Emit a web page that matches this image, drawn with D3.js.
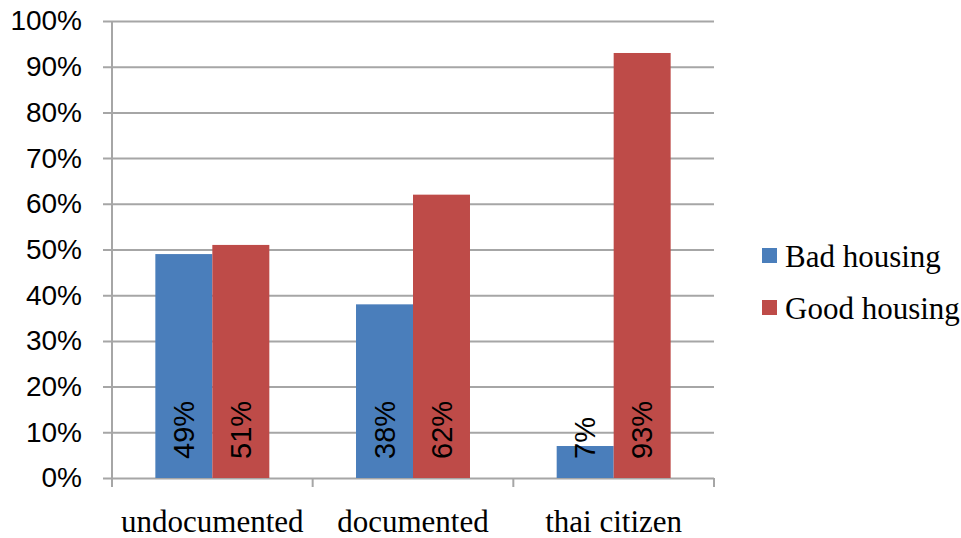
<!DOCTYPE html>
<html><head><meta charset="utf-8">
<script src="https://cdn.jsdelivr.net/npm/d3@7"></script>
<style>body{margin:0;background:#fff}svg{display:block}</style>
</head><body>
<svg id="chart" width="961" height="538"></svg>
<script>
const categories = ["undocumented", "documented", "thai citizen"];
const seriesNames = ["Bad housing", "Good housing"];
const badHousing = [0.49, 0.38, 0.07];
const goodHousing = [0.51, 0.62, 0.93];
const barLabels = [["49%", "38%", "7%"], ["51%", "62%", "93%"]];
const yTicks = [0, 0.1, 0.2, 0.3, 0.4, 0.5, 0.6, 0.7, 0.8, 0.9, 1.0];
const colors = ["#4a7ebb", "#be4b48"];

const series = [badHousing, goodHousing];
const svg = d3.select("#chart");
const pL = 112, pR = 714, pT = 21, pB = 478;

const y = d3.scaleLinear().domain([0, 1]).range([pB, pT]);
const x0 = d3.scaleBand().domain(categories).range([pL, pR]).paddingInner(0.432).paddingOuter(0.216);
const x1 = d3.scaleBand().domain(seriesNames).range([0, x0.bandwidth()]);

// gridlines + y axis
const yAxis = d3.axisLeft(y).tickValues(yTicks).tickFormat(d3.format(".0%"))
  .tickSize(-(pR - pL)).tickPadding(20);
const gy = svg.append("g").attr("transform", `translate(${pL},0)`).call(yAxis);
gy.select(".domain").remove();
gy.selectAll(".tick line").attr("x1", -9).attr("stroke", "#a6a6a6").attr("stroke-width", 2);
gy.selectAll(".tick text").attr("font-family", "Liberation Sans, Arial, sans-serif")
  .attr("font-size", 28).attr("fill", "#000").attr("x", -30);

// y axis line
svg.append("line").attr("x1", pL).attr("x2", pL).attr("y1", pT).attr("y2", pB + 9)
  .attr("stroke", "#a6a6a6").attr("stroke-width", 2);

// x axis ticks at category boundaries
const boundaries = categories.map(c => x0(c) - x0.step() * 0.216).concat([pR]);
svg.append("g").selectAll("line").data(boundaries.slice(1)).join("line")
  .attr("x1", d => d).attr("x2", d => d).attr("y1", pB).attr("y2", pB + 9)
  .attr("stroke", "#a6a6a6").attr("stroke-width", 2);

// bars
const groups = svg.append("g").selectAll("g").data(categories).join("g")
  .attr("transform", c => `translate(${x0(c)},0)`);
seriesNames.forEach((s, si) => {
  groups.append("rect")
    .attr("x", x1(s)).attr("width", x1.bandwidth())
    .attr("y", (c, i) => y(series[si][i]))
    .attr("height", (c, i) => pB - y(series[si][i]))
    .attr("fill", colors[si]);
  groups.append("text")
    .attr("transform", () => `translate(${x1(s) + x1.bandwidth() / 2},${pB - 19}) rotate(-90)`)
    .attr("dy", "0.35em")
    .attr("font-family", "Liberation Sans, Arial, sans-serif").attr("font-size", 29)
    .attr("fill", "#000")
    .text((c, i) => barLabels[si][i]);
});

// category labels
svg.append("g").selectAll("text").data(categories).join("text")
  .attr("x", c => x0(c) + x0.bandwidth() / 2).attr("y", 532)
  .attr("text-anchor", "middle")
  .attr("font-family", "Liberation Serif, Times New Roman, serif").attr("font-size", 31)
  .attr("fill", "#000").text(c => c);

// legend
const lg = svg.append("g").selectAll("g").data(seriesNames).join("g")
  .attr("transform", (d, i) => `translate(762,${248 + i * 52})`);
lg.append("rect").attr("width", 15).attr("height", 15).attr("fill", (d, i) => colors[i]);
lg.append("text").attr("x", 23).attr("y", 8).attr("dy", "0.35em")
  .attr("font-family", "Liberation Serif, Times New Roman, serif").attr("font-size", 31)
  .attr("fill", "#000").text(d => d);
</script>
</body></html>
